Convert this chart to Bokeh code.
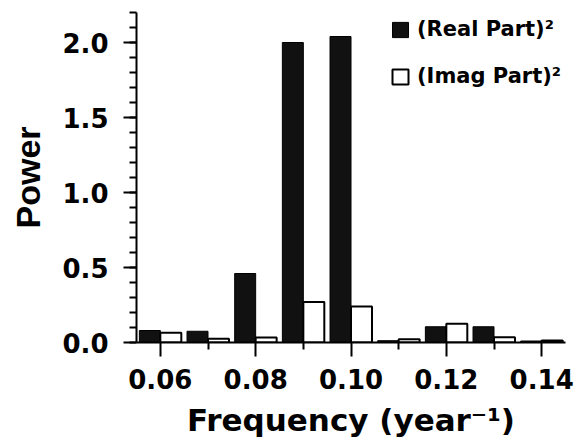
from bokeh.plotting import figure
from bokeh.models import ColumnDataSource, FixedTicker, NumeralTickFormatter
from bokeh.transform import dodge
from bokeh.embed import file_html
from bokeh.resources import INLINE

# Data
frequency = [0.06, 0.07, 0.08, 0.09, 0.10, 0.11, 0.12, 0.13, 0.14]
real_part_sq = [0.08, 0.075, 0.46, 2.00, 2.04, 0.012, 0.105, 0.105, 0.010]
imag_part_sq = [0.065, 0.025, 0.033, 0.27, 0.24, 0.022, 0.125, 0.035, 0.013]
x_ticks = [0.06, 0.08, 0.10, 0.12, 0.14]
x_minor = [0.07, 0.09, 0.11, 0.13]
y_ticks = [0.0, 0.5, 1.0, 1.5, 2.0]
y_minor = [round(0.1 * i, 1) for i in range(23)]

src = ColumnDataSource(dict(freq=frequency, real=real_part_sq, imag=imag_part_sq))

W = 0.0044
TICK_FONT = "DejaVu Sans"

p = figure(width=580, height=446, x_range=(0.055, 0.145), y_range=(0, 2.2),
           output_backend="svg", toolbar_location=None,
           min_border_left=136, min_border_right=15, min_border_top=12, min_border_bottom=104)
p.outline_line_color = None
p.xgrid.visible = False
p.ygrid.visible = False
p.background_fill_color = "white"
p.border_fill_color = "white"

p.vbar(x=dodge("freq", -W / 2), top="real", width=W, bottom=0, source=src,
       fill_color="#111111", line_color="black", line_width=1, legend_label="(Real Part)²")
p.vbar(x=dodge("freq", W / 2), top="imag", width=W, bottom=0, source=src,
       fill_color="white", line_color="black", line_width=2, legend_label="(Imag Part)²")

# X axis
xa = p.xaxis[0]
xa.ticker = FixedTicker(ticks=x_ticks, minor_ticks=x_minor)
xa.formatter = NumeralTickFormatter(format="0.00")
xa.axis_label = "Frequency (year⁻¹)"
xa.axis_label_text_font = TICK_FONT
xa.axis_label_text_font_style = "bold"
xa.axis_label_text_font_size = "31px"
xa.axis_label_text_color = "black"
xa.axis_label_standoff = 10
xa.major_label_text_font = TICK_FONT
xa.major_label_text_font_style = "bold"
xa.major_label_text_font_size = "26px"
xa.major_label_text_color = "black"
xa.major_label_standoff = 12
xa.major_tick_in = 0
xa.major_tick_out = 14
xa.minor_tick_in = 0
xa.minor_tick_out = 7
xa.axis_line_width = 2
xa.major_tick_line_width = 2
xa.minor_tick_line_width = 2
xa.axis_line_color = "black"
xa.major_tick_line_color = "black"
xa.minor_tick_line_color = "black"

# Y axis
ya = p.yaxis[0]
ya.ticker = FixedTicker(ticks=y_ticks, minor_ticks=y_minor)
ya.formatter = NumeralTickFormatter(format="0.0")
ya.axis_label = "Power"
ya.axis_label_text_font = "Liberation Sans"
ya.axis_label_text_font_style = "bold"
ya.axis_label_text_font_size = "34px"
ya.axis_label_text_color = "black"
ya.axis_label_standoff = 12
ya.major_label_text_font = TICK_FONT
ya.major_label_text_font_style = "bold"
ya.major_label_text_font_size = "26px"
ya.major_label_text_color = "black"
ya.major_label_standoff = 15
ya.major_tick_in = 0
ya.major_tick_out = 13
ya.minor_tick_in = 0
ya.minor_tick_out = 7
ya.axis_line_width = 2
ya.major_tick_line_width = 2
ya.minor_tick_line_width = 2
ya.axis_line_color = "black"
ya.major_tick_line_color = "black"
ya.minor_tick_line_color = "black"

# Legend
lg = p.legend[0]
lg.location = "top_right"
lg.margin = 0
lg.padding = 4
lg.spacing = 21
lg.glyph_width = 20
lg.glyph_height = 19
lg.label_height = 26
lg.label_standoff = 7
lg.label_text_font = TICK_FONT
lg.label_text_font_style = "bold"
lg.label_text_font_size = "21px"
lg.label_text_color = "black"
lg.background_fill_alpha = 0
lg.border_line_alpha = 0

open("out.html", "w").write(file_html(p, INLINE))
